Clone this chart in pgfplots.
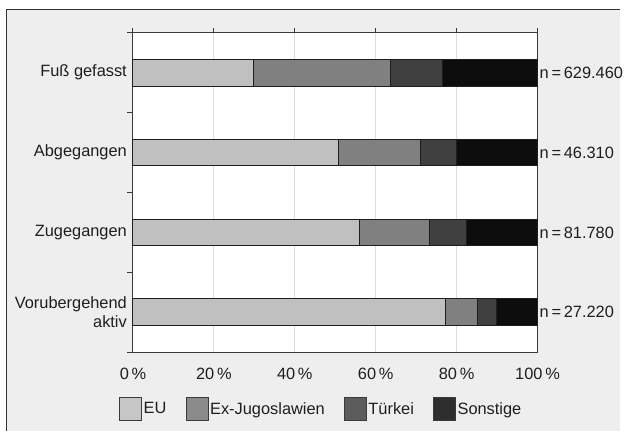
\documentclass[border=0pt]{standalone}
\usepackage{fontspec}
\setmainfont{Liberation Sans}
\usepackage{pgfplots}
\pgfplotsset{compat=1.18}

\definecolor{bgc}{HTML}{EEEEEE}
\definecolor{framec}{HTML}{333333}
\definecolor{axc}{HTML}{3A3A3A}
\definecolor{gridc}{HTML}{DCDCDC}
\definecolor{txt}{HTML}{1E1E1E}
\definecolor{cEU}{HTML}{C0C0C0}
\definecolor{cEJ}{HTML}{808080}
\definecolor{cTR}{HTML}{404040}
\definecolor{cSO}{HTML}{0D0D0D}
\definecolor{lEU}{HTML}{C6C6C6}
\definecolor{lEJ}{HTML}{8A8A8A}
\definecolor{lTR}{HTML}{5C5C5C}
\definecolor{lSO}{HTML}{2E2E2E}

\begin{document}
\begin{tikzpicture}[x=1pt,y=1pt,font=\fontsize{16.5}{19.5}\selectfont]
\fill[white] (0,0) rectangle (625,434);
\fill[bgc] (7,0) rectangle (625,424.5);
\draw[line width=1pt, framec] (7,0) -- (7,424.5) -- (625,424.5);
\begin{axis}[
  at={(134pt,79pt)}, anchor=south west,
  scale only axis, width=407.7pt, height=322pt,
  axis background/.style={fill=white},
  xbar stacked, bar width=27pt,
  xmin=0, xmax=100, ymin=-0.5, ymax=3.5,
  xtick={0,20,40,60,80,100},
  xticklabels={0\,\%,20\,\%,40\,\%,60\,\%,80\,\%,100\,\%},
  xtick pos=right, xticklabel pos=left,
  ytick={0,1,2,3},
  yticklabels={{Vorubergehend\\aktiv},Zugegangen,Abgegangen,Fuß gefasst},
  ytick pos=left,
  minor ytick={-0.5,0.5,1.5,2.5,3.5},
  major y tick style={draw=none},
  tick align=outside,
  major tick length=5pt, minor tick length=6pt,
  tick style={color=axc, line width=1pt},
  axis line style={color=axc, line width=1pt},
  xmajorgrids, major grid style={color=gridc, line width=1pt},
  yticklabel style={align=right, text=txt, inner sep=1pt},
  xticklabel style={text=txt, yshift=-7pt},
  every axis plot/.append style={draw=txt, line width=1pt},
  clip=false,
  legend columns=4,
  legend style={at={(-0.034,-0.177)}, anchor=west, draw=none, fill=none,
    inner sep=0pt,
    /tikz/every even column/.append style={column sep=18pt},
    nodes={inner sep=1.5pt, text=txt}},
  legend image code/.code={\draw[#1] (0pt,-11.5pt) rectangle (22pt,11.5pt);},
]
\addplot[fill=cEU, forget plot] coordinates {(77.3,0) (56.0,1) (50.9,2) (29.9,3)};
\addplot[fill=cEJ, forget plot] coordinates {(7.9,0) (17.2,1) (20.2,2) (33.7,3)};
\addplot[fill=cTR, forget plot] coordinates {(4.6,0) (9.2,1) (8.9,2) (12.9,3)};
\addplot[fill=cSO, forget plot] coordinates {(10.2,0) (17.6,1) (20.0,2) (23.5,3)};
\addlegendimage{fill=lEU, draw=axc, line width=1pt}
\addlegendentry{EU}
\addlegendimage{fill=lEJ, draw=axc, line width=1pt}
\addlegendentry{Ex-Jugoslawien}
\addlegendimage{fill=lTR, draw=axc, line width=1pt}
\addlegendentry{Türkei}
\addlegendimage{fill=lSO, draw=axc, line width=1pt}
\addlegendentry{Sonstige}
\node[anchor=west, text=txt, inner sep=2pt] at (axis cs:100,3) {n\,=\,629.460};
\node[anchor=west, text=txt, inner sep=2pt] at (axis cs:100,2) {n\,=\,46.310};
\node[anchor=west, text=txt, inner sep=2pt] at (axis cs:100,1) {n\,=\,81.780};
\node[anchor=west, text=txt, inner sep=2pt] at (axis cs:100,0) {n\,=\,27.220};
\end{axis}
\end{tikzpicture}
\end{document}
